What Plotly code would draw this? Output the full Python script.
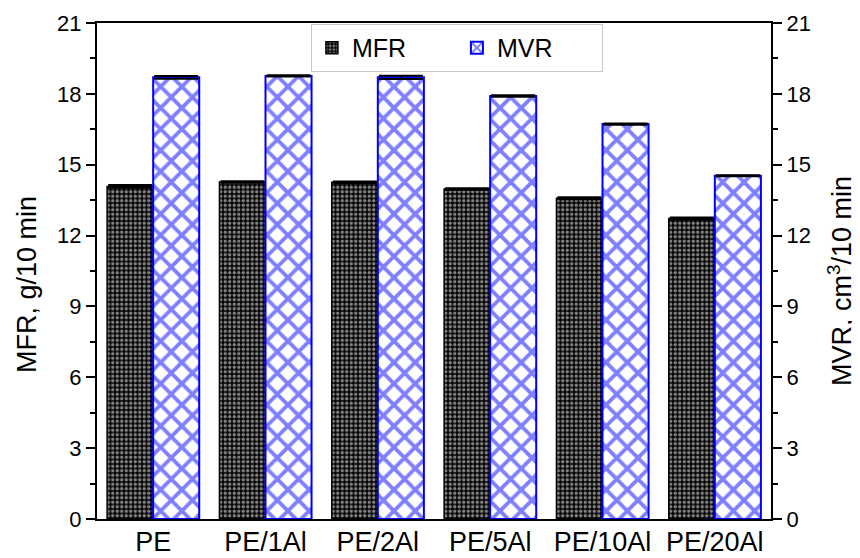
import plotly.graph_objects as go

categories = ["PE", "PE/1Al", "PE/2Al", "PE/5Al", "PE/10Al", "PE/20Al"]
mfr = [14.08, 14.27, 14.26, 13.97, 13.58, 12.72]
mfr_err = [0.06, 0.03, 0.03, 0.03, 0.04, 0.04]
mvr = [18.70, 18.76, 18.70, 17.91, 16.72, 14.53]
mvr_err = [0.06, 0.03, 0.07, 0.03, 0.03, 0.02]
y_ticks = [0, 3, 6, 9, 12, 15, 18, 21]

FONT = "Liberation Sans, Arial"
ytick_font = dict(family=FONT, size=22, color="black")
xtick_font = dict(family=FONT, size=27, color="black")
title_font = dict(family=FONT, size=27, color="black")

# the page body adds an 8 px margin, so the figure is 8 px smaller than the window
W, H = 852, 550
ML, MR, MT, MB = 89, 89, 15, 39

fig = go.Figure()
fig.add_trace(go.Bar(
    x=categories, y=mfr, name="MFR", yaxis="y", offsetgroup="1",
    marker=dict(color="black", line=dict(color="black", width=1.5),
                pattern=dict(shape=".", fgcolor="white", bgcolor="black", size=4.5, solidity=0.45)),
    error_y=dict(type="data", array=mfr_err, color="black", thickness=2, width=22),
))
fig.add_trace(go.Bar(
    x=categories, y=mvr, name="MVR", yaxis="y2", offsetgroup="2",
    marker=dict(color="white", line=dict(color="#0000ff", width=2),
                pattern=dict(shape="x", fgcolor="#0000ff", bgcolor="white", size=15, solidity=0.45)),
    error_y=dict(type="data", array=mvr_err, color="black", thickness=2, width=22),
))

axis_common = dict(range=[0, 21], tickvals=y_ticks, ticks="outside", ticklen=9, tickwidth=1.5,
                   showline=True, linecolor="black", linewidth=2, showgrid=False, zeroline=False,
                   tickfont=ytick_font, automargin=False,
                   minor=dict(ticks="outside", dtick=1.5, ticklen=5, tickwidth=1.5, tickcolor="black"),
                   tickcolor="black")

fig.update_layout(
    width=W, height=H,
    margin=dict(l=ML, r=MR, t=MT, b=MB),
    paper_bgcolor="white", plot_bgcolor="white",
    barmode="group", bargap=0.18, bargroupgap=0,
    xaxis=dict(range=[-0.5, 5.5], showline=True, linecolor="black", linewidth=2, mirror=True,
               ticks="", tickfont=xtick_font, showgrid=False, automargin=False,
               ticklabelstandoff=-2),
    yaxis=dict(**axis_common),
    yaxis2=dict(overlaying="y", side="right", **axis_common),
    legend=dict(orientation="h", x=0.534, y=0.998, xanchor="center", yanchor="top",
                bordercolor="#c8c8c8", borderwidth=1, bgcolor="white",
                entrywidth=100, entrywidthmode="pixels",
                font=dict(family=FONT, size=25, color="black")),
    showlegend=True,
    annotations=[
        dict(text="MFR, g/10 min", textangle=-90, x=27, y=285, xref="paper", yref="paper",
             xanchor="center", yanchor="middle", showarrow=False, font=title_font),
        dict(text="MVR, cm<sup>3</sup>/10 min", textangle=-90, x=840, y=281, xref="paper", yref="paper",
             xanchor="center", yanchor="middle", showarrow=False, font=title_font),
    ],
)

# convert window-pixel positions of the axis-title annotations into paper coordinates
pl, pr, pt, pb = ML + 8, W - MR + 8, MT + 8, H - MB + 8
for a in fig.layout.annotations:
    a.x = (a.x - pl) / (pr - pl)
    a.y = (pb - a.y) / (pb - pt)

fig.write_html("out.html")
